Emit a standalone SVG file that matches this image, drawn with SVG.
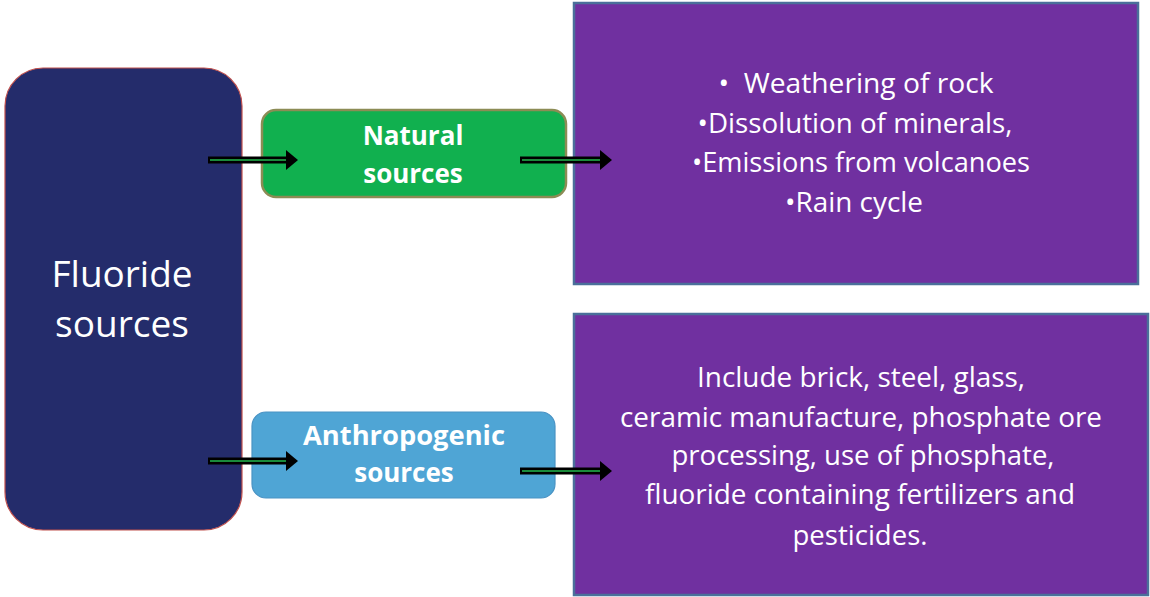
<svg xmlns="http://www.w3.org/2000/svg" width="1150" height="597" viewBox="0 0 1150 597">
<defs>
<style>
.t{font-family:"Open Sans","Liberation Sans",sans-serif;fill:#ffffff;text-anchor:middle}
.big{font-size:37px}
.mid{font-size:26px;font-weight:bold}
.list{font-size:26.5px}
.purple{fill:#7030a0;stroke:#4a6f9a;stroke-width:2.5}
.ol{stroke:#000;stroke-width:7;fill:none}
.il{stroke:#1a8a3a;stroke-width:2;fill:none}
.ah{fill:#000}
</style>
</defs>
<rect width="1150" height="597" fill="#ffffff"/>
<g id="fluoride">
<rect x="5" y="68" width="237" height="462" rx="38" fill="#242c6b" stroke="#c0504d" stroke-width="1.2"/>
<text class="t big" x="122" y="287" textLength="141" lengthAdjust="spacingAndGlyphs">Fluoride</text>
<text class="t big" x="122" y="337">sources</text>
</g>
<g id="natural">
<rect x="262" y="110" width="304" height="87" rx="14" fill="#11b04f" stroke="#8c8c55" stroke-width="2.5"/>
<text class="t mid" x="413" y="145">Natural</text>
<text class="t mid" x="413" y="183">sources</text>
</g>
<g id="anthropogenic">
<rect x="252" y="412" width="303" height="86" rx="14" fill="#4fa5d5" stroke="#4a93c4" stroke-width="1.2"/>
<text class="t mid" x="404" y="445" textLength="202" lengthAdjust="spacingAndGlyphs">Anthropogenic</text>
<text class="t mid" x="404" y="482">sources</text>
</g>
<g id="natural-details">
<rect class="purple" x="574" y="3" width="564" height="281"/>
<text class="t list" x="856" y="93" textLength="275" lengthAdjust="spacingAndGlyphs">•&#160; Weathering of rock</text>
<text class="t list" x="855" y="133" textLength="315" lengthAdjust="spacingAndGlyphs">•Dissolution of minerals,</text>
<text class="t list" x="861" y="172" textLength="338" lengthAdjust="spacingAndGlyphs">•Emissions from volcanoes</text>
<text class="t list" x="854" y="212" textLength="138" lengthAdjust="spacingAndGlyphs">•Rain cycle</text>
</g>
<g id="anthropogenic-details">
<rect class="purple" x="574" y="314" width="574" height="281"/>
<text class="t list" x="861" y="387" textLength="328" lengthAdjust="spacingAndGlyphs">Include brick, steel, glass,</text>
<text class="t list" x="861" y="427" textLength="482" lengthAdjust="spacingAndGlyphs">ceramic manufacture, phosphate ore</text>
<text class="t list" x="863" y="465" textLength="383" lengthAdjust="spacingAndGlyphs">processing, use of phosphate,</text>
<text class="t list" x="860" y="504" textLength="430" lengthAdjust="spacingAndGlyphs">fluoride containing fertilizers and</text>
<text class="t list" x="860" y="545" textLength="135" lengthAdjust="spacingAndGlyphs">pesticides.</text>
</g>
<g id="connectors">
<line class="ol" x1="208" y1="160" x2="290" y2="160"/>
<line class="il" x1="210" y1="160" x2="288" y2="160"/>
<polygon class="ah" points="286,150 298,160 286,170"/>
<line class="ol" x1="520" y1="160" x2="604" y2="160"/>
<line class="il" x1="522" y1="160" x2="602" y2="160"/>
<polygon class="ah" points="600,150 612,160 600,170"/>
<line class="ol" x1="208" y1="461" x2="290" y2="461"/>
<line class="il" x1="210" y1="461" x2="288" y2="461"/>
<polygon class="ah" points="286,451 298,461 286,471"/>
<line class="ol" x1="520" y1="471" x2="604" y2="471"/>
<line class="il" x1="522" y1="471" x2="602" y2="471"/>
<polygon class="ah" points="600,461 612,471 600,481"/>
</g>
</svg>
